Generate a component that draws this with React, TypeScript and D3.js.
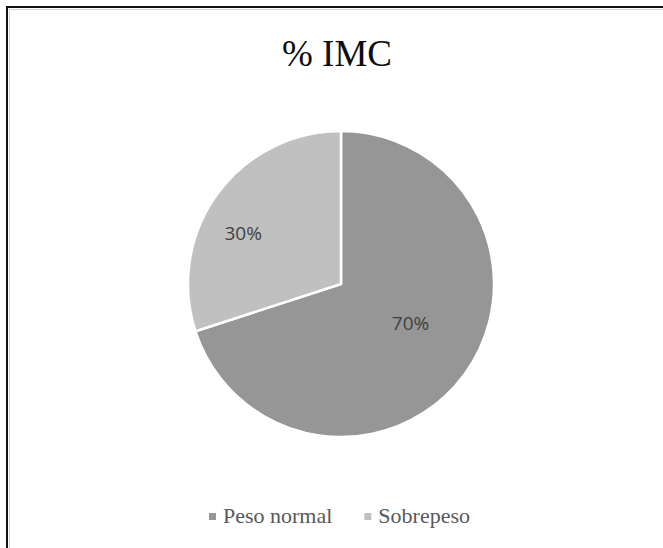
import React, { useEffect, useRef } from 'react';
import * as d3 from 'd3';

const categories = ['Peso normal', 'Sobrepeso'];
const values = [70, 30];
const labels = ['70%', '30%'];
const colors = ['#969696', '#c0c0c0'];
const title = '% IMC';

const W = 663;
const H = 548;

export default function App() {
  const svgRef = useRef<SVGSVGElement>(null);

  useEffect(() => {
    if (!svgRef.current) return;
    const svg = d3.select(svgRef.current);
    svg.selectAll('*').remove();

    // frame (only top/left edges fall inside the picture)
    svg.append('rect')
      .attr('x', 7).attr('y', 7)
      .attr('width', W + 20).attr('height', H + 20)
      .attr('fill', '#fff')
      .attr('stroke', '#111')
      .attr('stroke-width', 2);
    svg.append('rect')
      .attr('x', 9.5).attr('y', 9.5)
      .attr('width', W + 20).attr('height', H + 20)
      .attr('fill', 'none')
      .attr('stroke', '#d4d4d4')
      .attr('stroke-width', 1);

    // title
    svg.append('text')
      .attr('x', 337)
      .attr('y', 66)
      .attr('text-anchor', 'middle')
      .style('font-family', '"Liberation Serif", "Times New Roman", serif')
      .style('font-size', '37px')
      .style('fill', '#0d0d0d')
      .text(title);

    // pie
    const cx = 341;
    const cy = 284;
    const r = 153;
    const g = svg.append('g').attr('transform', `translate(${cx},${cy})`);

    const pie = d3.pie<number>().sort(null).value((d: number) => d);
    const arcs = pie(values);
    const arc = d3.arc<d3.PieArcDatum<number>>().innerRadius(0).outerRadius(r);

    g.selectAll('path.slice')
      .data(arcs)
      .enter()
      .append('path')
      .attr('class', 'slice')
      .attr('d', arc as any)
      .attr('fill', (_: any, i: number) => colors[i])
      .attr('stroke', '#fff')
      .attr('stroke-width', 2.5)
      .attr('stroke-linejoin', 'round');

    // data labels (best-fit style placement)
    const labelRadius = [0.52, 0.72];
    const labelShift = [-0.12, -0.15];
    g.selectAll('text.lbl')
      .data(arcs)
      .enter()
      .append('text')
      .attr('class', 'lbl')
      .attr('x', (d: any, i: number) => {
        const a = (d.startAngle + d.endAngle) / 2 + labelShift[i];
        return Math.sin(a) * r * labelRadius[i];
      })
      .attr('y', (d: any, i: number) => {
        const a = (d.startAngle + d.endAngle) / 2 + labelShift[i];
        return -Math.cos(a) * r * labelRadius[i];
      })
      .attr('text-anchor', 'middle')
      .attr('dominant-baseline', 'central')
      .style('font-family', '"Open Sans", "Liberation Sans", sans-serif')
      .style('font-size', '19px')
      .style('fill', '#404040')
      .text((_: any, i: number) => labels[i]);

    // legend
    const legend = svg.append('g');
    const items = legend.selectAll('g.item')
      .data(categories)
      .enter()
      .append('g')
      .attr('class', 'item');
    items.append('rect')
      .attr('width', 7)
      .attr('height', 7)
      .attr('y', -10)
      .attr('fill', (_: any, i: number) => colors[i]);
    items.append('text')
      .attr('x', 14)
      .attr('y', 0)
      .style('font-family', '"Liberation Serif", "Times New Roman", serif')
      .style('font-size', '22px')
      .style('fill', '#595959')
      .text((d: string) => d);

    const gap = 32;
    let x = 0;
    items.each(function (this: SVGGElement) {
      const t = d3.select(this).select('text').node() as SVGTextElement;
      d3.select(this).attr('transform', `translate(${x},0)`);
      x += 14 + t.getComputedTextLength() + gap;
    });
    const total = x - gap;
    legend.attr('transform', `translate(${(W - total) / 2 + 8},523)`);
  }, []);

  return (
    <svg
      ref={svgRef}
      width={W}
      height={H}
      style={{ position: 'absolute', left: 0, top: 0, background: '#fff' }}
    />
  );
}
